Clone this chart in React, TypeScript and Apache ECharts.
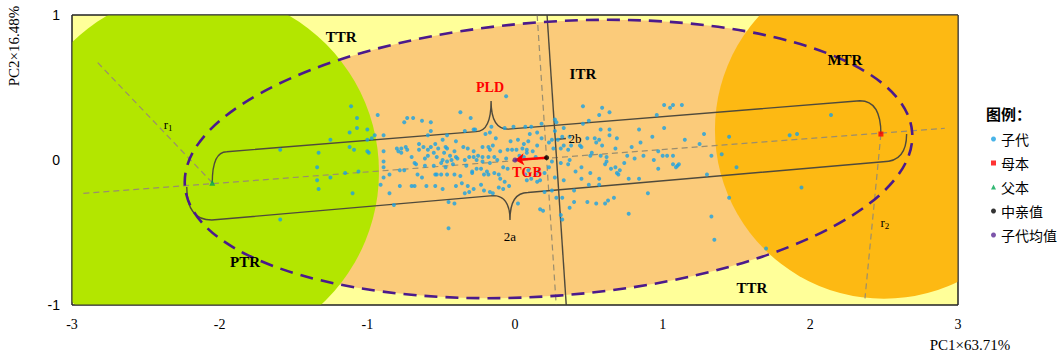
import React, { useEffect, useRef } from "react";
import * as echarts from "echarts";

// ---------- data (PC1, PC2 units) ----------
const X_MIN = -3, X_MAX = 3, Y_MIN = -1, Y_MAX = 1;

const FATHER: number[] = [-2.05, -0.157];
const MOTHER: number[] = [2.478, 0.179];
const MID_PARENT: number[] = [0.214, 0.016];
const OFFSPRING_MEAN: number[] = [0.0, 0.0];

const OFFSPRING: number[][] = [
  [-1.11,0.37],[-0.93,0.31],[-1.07,0.29],[-1.07,0.22],[-1.12,0.19],[-1.00,0.21],[-1.25,0.14],[-0.95,0.17],[-0.89,0.17],[-1.00,0.14],
  [-0.97,0.15],[-1.12,0.09],[-1.09,0.07],[-1.00,0.06],[-0.99,0.05],[-0.89,0.06],[-0.80,0.08],[-0.79,0.06],[-1.33,0.05],[-0.89,-0.01],
  [-1.34,-0.05],[-0.89,-0.05],[-1.15,-0.09],[-1.06,-0.08],[-1.25,-0.12],[-1.34,-0.14],[-0.89,-0.12],[-0.85,-0.10],[-0.91,-0.17],[-1.33,-0.20],
  [-1.10,-0.23],[-0.85,-0.23],[-0.82,-0.31],[-1.59,0.07],[-1.59,-0.41],
  [-0.06,0.44],[-0.37,0.33],[-0.30,0.29],[-0.73,0.29],[-0.69,0.29],[-0.63,0.27],[-0.75,0.26],[-0.57,0.26],[-0.34,0.20],[-0.28,0.21],
  [-0.27,0.21],[-0.16,0.23],[-0.20,0.18],[-0.17,0.19],[-0.57,0.20],[-0.46,0.17],[-0.59,0.17],[-0.13,0.15],[-0.07,0.22],[-0.01,0.23],
  [-0.49,0.14],[-0.40,0.13],[-0.54,0.11],[-0.65,0.11],[-0.03,0.13],[0.02,0.14],
  [-0.77,0.08],[-0.74,0.09],[-0.73,0.07],[-0.77,0.05],[-0.62,0.09],[-0.57,0.09],[-0.59,0.07],[-0.52,0.08],[-0.46,0.08],[-0.47,0.09],
  [-0.35,0.09],[-0.32,0.08],[-0.31,0.02],[-0.28,0.06],[-0.22,0.09],[-0.18,0.09],[-0.17,0.07],[-0.15,0.10],[-0.10,0.06],[-0.05,0.07],
  [-0.02,0.07],[0.01,0.07],[0.03,0.03],
  [-0.65,0.07],[-0.55,0.05],[-0.48,0.05],[-0.44,0.03],[-0.41,0.06],[-0.40,0.02],[-0.28,0.02],[-0.25,0.03],[-0.22,0.02],[-0.18,0.02],
  [-0.14,0.02],[-0.12,0.00],[-0.06,0.01],
  [-0.70,0.02],[-0.61,0.01],[-0.59,0.03],[-0.53,0.02],[-0.49,0.00],[-0.46,-0.01],[-0.43,0.00],[-0.39,0.01],[-0.34,0.00],[-0.26,0.00],
  [-0.22,-0.01],[-0.17,-0.02],
  [-0.78,-0.07],[-0.75,-0.07],[-0.68,-0.02],[-0.67,-0.03],[-0.61,-0.04],[-0.55,-0.04],[-0.50,-0.02],[-0.47,-0.05],[-0.42,-0.03],[-0.33,-0.04],
  [-0.29,-0.08],[-0.26,-0.06],[-0.23,-0.06],[-0.19,-0.08],[-0.08,-0.05],[-0.05,-0.06],
  [-0.66,-0.10],[-0.63,-0.12],[-0.54,-0.10],[-0.53,-0.10],[-0.50,-0.10],[-0.46,-0.10],[-0.41,-0.10],[-0.37,-0.11],[-0.29,-0.09],[-0.21,-0.10],
  [-0.18,-0.10],[-0.14,-0.09],[-0.11,-0.10],[-0.10,-0.13],[-0.07,-0.15],
  [-0.70,-0.18],[-0.68,-0.18],[-0.60,-0.18],[-0.54,-0.18],[-0.49,-0.20],[-0.40,-0.18],[-0.36,-0.16],[-0.32,-0.18],[-0.31,-0.22],[-0.28,-0.20],
  [-0.23,-0.17],[-0.21,-0.21],[-0.17,-0.22],[-0.15,-0.23],[-0.11,-0.19],[-0.08,-0.20],[-0.04,-0.18],[-0.78,-0.18],[-0.34,-0.23],[0.02,-0.30],
  [-0.45,-0.29],[-0.41,-0.30],[-0.45,-0.47],
  [0.46,0.37],[0.59,0.36],[0.64,0.33],[0.57,0.31],[0.27,0.28],[0.28,0.26],[0.50,0.27],[0.07,0.23],[0.11,0.23],[0.18,0.25],
  [0.46,0.25],[0.58,0.21],[0.64,0.21],[0.84,0.21],[0.33,0.22],[0.27,0.20],[0.10,0.18],[0.15,0.19],
  [0.25,0.14],[0.29,0.14],[0.32,0.16],[0.37,0.16],[0.54,0.15],[0.57,0.14],[0.64,0.17],[0.69,0.15],[0.49,0.15],[0.18,0.15],
  [0.06,0.11],[0.09,0.13],[0.15,0.10],[0.23,0.12],[0.33,0.10],[0.38,0.10],[0.44,0.10],[0.45,0.09],[0.55,0.12],[0.59,0.10],
  [0.68,0.08],[0.79,0.09],[0.85,0.12],
  [0.05,0.08],[0.08,0.07],[0.12,0.06],[0.08,0.05],[0.06,0.02],[0.14,0.02],[0.26,0.08],[0.31,0.08],[0.36,0.07],[0.51,0.03],
  [0.52,0.05],[0.58,0.03],[0.62,0.02],[0.62,-0.01],[0.76,0.03],[0.87,0.03],[0.81,0.01],
  [0.25,-0.01],[0.31,-0.02],[0.37,0.00],[0.36,-0.03],[0.45,-0.05],[0.51,-0.09],[0.61,-0.03],[0.65,-0.06],[0.68,-0.05],[0.69,-0.09],
  [0.70,-0.10],[0.71,-0.07],[0.74,-0.02],[0.41,-0.08],[0.23,-0.05],[0.16,-0.08],[0.20,-0.09],[0.14,-0.10],[0.09,-0.07],[0.07,-0.10],
  [0.08,-0.14],[0.11,-0.13],[0.15,-0.15],[0.17,-0.14],[0.33,-0.14],[0.45,-0.13],[0.50,-0.17],[0.57,-0.13],[0.57,-0.17],[0.77,-0.13],
  [0.84,-0.13],[0.27,-0.12],
  [0.20,-0.22],[0.25,-0.21],[0.28,-0.26],[0.32,-0.26],[0.40,-0.21],[0.40,-0.29],[0.37,-0.33],[0.49,-0.29],[0.55,-0.30],[0.61,-0.30],
  [0.63,-0.28],[0.67,-0.26],[0.17,-0.34],[0.19,-0.35],[0.31,-0.38],[0.32,-0.41],[0.77,-0.37],
  [1.01,0.38],[1.07,0.38],[1.05,0.36],[1.13,0.38],[0.96,0.31],[1.01,0.22],[0.93,0.16],[1.15,0.14],[1.28,0.18],[1.25,0.11],
  [1.45,0.16],[0.97,0.06],[1.00,0.03],[1.03,0.03],[1.07,0.03],[0.94,0.00],[1.07,-0.03],[1.11,-0.03],[1.10,-0.04],[1.09,-0.05],
  [0.97,-0.06],[1.33,0.03],[1.40,0.04],[1.50,-0.05],[1.30,-0.10],[0.90,-0.23],[1.45,-0.26],[1.33,-0.39],[1.35,-0.55],[1.70,-0.61],
  [2.14,0.31],[1.86,0.17],[1.91,0.18],[1.94,-0.19],
];

// zones: [centre PC1, centre PC2, radius in PC1 units]
const PTR_ZONE: number[] = [-2.146, -0.083, 1.225];
const MTR_ZONE: number[] = [2.498, 0.208, 1.144];
// transgressive ellipse: [centre PC1, centre PC2, semi-major (PC1 units), semi-minor (PC2 units)]
const TGR_ELLIPSE: number[] = [0.227, 0.007, 2.47, 0.945];

// capsule outline (upper edge with PLD brace, lower edge with 2a brace)
const UPPER_START = FATHER;
const UPPER_CORNER: number[] = [-1.952, 0.057];
const PLD_LEFT: number[] = [-0.264, 0.196];
const PLD_TIP: number[] = [-0.162, 0.407];
const PLD_RIGHT: number[] = [-0.047, 0.213];
const UPPER_END: number[] = [2.336, 0.409];
const UPPER_FINISH = MOTHER;
const LOWER_START: number[] = [-2.223, -0.186];
const LOWER_CORNER: number[] = [-2.053, -0.414];
const A2_LEFT: number[] = [-0.149, -0.246];
const A2_TIP: number[] = [-0.034, -0.414];
const A2_RIGHT: number[] = [0.088, -0.224];
const LOWER_END: number[] = [2.494, -0.012];
const LOWER_FINISH: number[] = [2.652, 0.179];

// straight guides: [x1, y1, x2, y2]
const DASHED_GUIDES: number[][] = [
  [-2.923, -0.230, 2.911, 0.219],
  [0.150, 1.0, 0.279, -1.0],
  [FATHER[0], FATHER[1], -2.832, 0.678],
  [MOTHER[0], MOTHER[1], 2.370, -0.954],
];
const SOLID_GUIDES: number[][] = [
  [0.217, 1.0, 0.347, -1.0],
  [0.271, 0.141, 0.345, 0.148],
];

const ZONE_LABELS = ["TTR", "TTR", "ITR", "MTR", "PTR"];
const ZONE_LABEL_POS: number[][] = [[-1.178, 0.848], [1.605, -0.883], [0.46, 0.593], [2.234, 0.69], [-1.828, -0.703]];
const RED_LABELS = ["PLD", "TGB"];
const RED_LABEL_POS: number[][] = [[-0.169, 0.503], [0.081, -0.083]];
const SMALL_LABELS = ["2a", "2b", "{r|r}{s|1}", "{r|r}{s|2}"];
const SMALL_LABEL_POS: number[][] = [[-0.034, -0.531], [0.406, 0.145], [-2.349, 0.248], [2.505, -0.434]];

const X_NAME = "PC1×63.71%";
const Y_NAME = "PC2×16.48%";
const LEGEND_TITLE = "图例：";
const LEGEND_NAMES = ["子代", "母本", "父本", "中亲值", "子代均值"];

const GRID = { left: 72, right: 103, top: 15, bottom: 50 };
const SERIF = "'Liberation Serif', 'Times New Roman', serif";
const CJK = "'Noto Sans CJK SC', sans-serif";

function clipOf(params: any) {
  const cs = params.coordSys;
  return { type: "rect", shape: { x: cs.x, y: cs.y, width: cs.width, height: cs.height } };
}

function circleItem(color: string) {
  return (params: any, api: any) => {
    const c = api.coord([api.value(0), api.value(1)]);
    const r = api.size([api.value(2), 0])[0];
    return {
      type: "group",
      clipPath: clipOf(params),
      children: [{ type: "circle", shape: { cx: c[0], cy: c[1], r }, style: { fill: color } }],
    };
  };
}

function ellipseItem(style: any) {
  return (params: any, api: any) => {
    const c = api.coord([api.value(0), api.value(1)]);
    const rx = api.size([api.value(2), 0])[0];
    const ry = api.size([0, api.value(3)])[1];
    const f = api.coord(FATHER);
    const m = api.coord(MOTHER);
    const rot = Math.atan2(f[1] - m[1], m[0] - f[0]);
    return {
      type: "group",
      clipPath: clipOf(params),
      children: [{ type: "ellipse", x: c[0], y: c[1], rotation: rot, shape: { cx: 0, cy: 0, rx, ry }, style }],
    };
  };
}

function capsuleItem(params: any, api: any) {
  const p = (d: number[]) => api.coord(d);
  const fmt = (a: number[]) => `${a[0].toFixed(2)} ${a[1].toFixed(2)}`;
  const q = (ctrl: number[], end: number[]) => `Q ${fmt(ctrl)} ${fmt(end)}`;
  const us = p(UPPER_START), uc = p(UPPER_CORNER), pl = p(PLD_LEFT), pt = p(PLD_TIP), pr = p(PLD_RIGHT), ue = p(UPPER_END), uf = p(UPPER_FINISH);
  const ls = p(LOWER_START), lc = p(LOWER_CORNER), al = p(A2_LEFT), at = p(A2_TIP), ar = p(A2_RIGHT), le = p(LOWER_END), lf = p(LOWER_FINISH);
  const upper = [
    `M ${fmt(us)}`, q([us[0], uc[1]], uc), `L ${fmt(pl)}`, q([pt[0], pl[1]], pt), q([pt[0], pr[1]], pr),
    `L ${fmt(ue)}`, q([uf[0], ue[1]], uf),
  ].join(" ");
  const lower = [
    `M ${fmt(ls)}`, q([ls[0], lc[1]], lc), `L ${fmt(al)}`, q([at[0], al[1]], at), q([at[0], ar[1]], ar),
    `L ${fmt(le)}`, q([lf[0], le[1]], lf),
  ].join(" ");
  const style = { fill: null, stroke: "#4f4a3c", lineWidth: 1.4 };
  return {
    type: "group",
    children: [
      { type: "path", shape: { pathData: upper }, style },
      { type: "path", shape: { pathData: lower }, style },
    ],
  };
}

function lineItem(style: any) {
  return (params: any, api: any) => {
    const a = api.coord([api.value(0), api.value(1)]);
    const b = api.coord([api.value(2), api.value(3)]);
    return { type: "line", shape: { x1: a[0], y1: a[1], x2: b[0], y2: b[1] }, style };
  };
}

function textItem(texts: string[], style: any) {
  return (params: any, api: any) => {
    const c = api.coord([api.value(0), api.value(1)]);
    return {
      type: "text",
      x: c[0],
      y: c[1],
      style: { text: texts[params.dataIndex], align: "center", verticalAlign: "middle", ...style },
    };
  };
}

export default function App() {
  const ref = useRef<HTMLDivElement>(null);
  useEffect(() => {
    if (!ref.current) return;
    const chart = echarts.init(ref.current, null, { renderer: "svg" });
    const W = 1061, H = 355;
    const gx = GRID.left, gy = GRID.top, gw = W - GRID.left - GRID.right, gh = H - GRID.top - GRID.bottom;
    const option: any = {
      animation: false,
      backgroundColor: "#ffffff",
      grid: { ...GRID, show: true, backgroundColor: "#FFFF99", borderColor: "#000", borderWidth: 1 },
      xAxis: {
        type: "value", min: X_MIN, max: X_MAX, interval: 1,
        axisLine: { show: false }, axisTick: { show: false }, splitLine: { show: false },
        axisLabel: { margin: 12, color: "#000", fontFamily: SERIF, fontSize: 14 },
      },
      yAxis: {
        type: "value", min: Y_MIN, max: Y_MAX, interval: 1,
        axisLine: { show: false }, axisTick: { show: false }, splitLine: { show: false },
        axisLabel: { margin: 12, color: "#000", fontFamily: "'Liberation Sans', Arial, sans-serif", fontSize: 14 },
      },
      title: {
        text: LEGEND_TITLE, left: 981, top: 101,
        textStyle: { fontSize: 15, fontWeight: "bold", fontFamily: CJK, color: "#000" },
      },
      legend: {
        data: LEGEND_NAMES, orient: "vertical", left: 986, top: 127,
        itemWidth: 5, itemHeight: 5, itemGap: 10,
        textStyle: { fontSize: 14, fontFamily: CJK, color: "#000", lineHeight: 14 },
      },
      graphic: [
        { type: "rect", z: 100, shape: { x: gx, y: gy, width: gw, height: gh }, style: { fill: null, stroke: "#333", lineWidth: 1 } },
        { type: "text", x: 14, y: 46, rotation: Math.PI / 2, style: { text: Y_NAME, font: `15px ${SERIF}`, fill: "#000", align: "center", verticalAlign: "middle" } },
        { type: "text", x: 970, y: 345, style: { text: X_NAME, font: `15px ${SERIF}`, fill: "#000", align: "center", verticalAlign: "middle" } },
      ],
      series: [
        { type: "custom", silent: true, renderItem: ellipseItem({ fill: "#FBCB7A" }), data: [TGR_ELLIPSE], z: 1 },
        { type: "custom", silent: true, renderItem: circleItem("#B3E600"), data: [PTR_ZONE], z: 1 },
        { type: "custom", silent: true, renderItem: circleItem("#FDB913"), data: [MTR_ZONE], z: 1 },
        { type: "custom", silent: true, renderItem: lineItem({ stroke: "#9a8d6e", lineWidth: 1.2, lineDash: [6, 4] }), data: DASHED_GUIDES, z: 2 },
        { type: "custom", silent: true, renderItem: lineItem({ stroke: "#4f4a3c", lineWidth: 1.4 }), data: SOLID_GUIDES, z: 2 },
        { type: "custom", silent: true, renderItem: capsuleItem, data: [[0, 0]], z: 2 },
        { type: "custom", silent: true, renderItem: ellipseItem({ fill: null, stroke: "#4B1A8C", lineWidth: 2.6, lineDash: [13, 8] }), data: [TGR_ELLIPSE], z: 3 },
        { name: "子代", type: "scatter", symbol: "circle", symbolSize: 4, itemStyle: { color: "#1BA1E2" }, data: OFFSPRING, z: 4 },
        {
          type: "lines", coordinateSystem: "cartesian2d", silent: true, z: 5,
          symbol: ["none", "arrow"], symbolSize: 9,
          lineStyle: { color: "#FF0000", width: 2.6, opacity: 1 },
          data: [{ coords: [MID_PARENT, OFFSPRING_MEAN] }],
        },
        { name: "母本", type: "scatter", symbol: "rect", symbolSize: 5, itemStyle: { color: "#FF0000" }, data: [MOTHER], z: 6 },
        { name: "父本", type: "scatter", symbol: "triangle", symbolSize: 6, itemStyle: { color: "#00A651" }, data: [FATHER], z: 6 },
        { name: "中亲值", type: "scatter", symbol: "circle", symbolSize: 5, itemStyle: { color: "#000000" }, data: [MID_PARENT], z: 6 },
        { name: "子代均值", type: "scatter", symbol: "circle", symbolSize: 5, itemStyle: { color: "#5B2A95" }, data: [OFFSPRING_MEAN], z: 6 },
        { type: "custom", silent: true, z: 7, data: ZONE_LABEL_POS,
          renderItem: textItem(ZONE_LABELS, { font: `bold 15px ${SERIF}`, fill: "#000" }) },
        { type: "custom", silent: true, z: 7, data: RED_LABEL_POS,
          renderItem: textItem(RED_LABELS, { font: `bold 14px ${SERIF}`, fill: "#FF0000" }) },
        { type: "custom", silent: true, z: 7, data: SMALL_LABEL_POS,
          renderItem: textItem(SMALL_LABELS, {
            font: `13px ${SERIF}`, fill: "#000",
            rich: {
              r: { fontSize: 13, fontFamily: SERIF, fill: "#000" },
              s: { fontSize: 9, fontFamily: SERIF, fill: "#000", padding: [7, 0, 0, 0] },
            },
          }) },
      ],
    };
    chart.setOption(option);
    return () => chart.dispose();
  }, []);
  return <div ref={ref} style={{ position: "fixed", left: 0, top: 0, width: 1061, height: 355 }} />;
}
